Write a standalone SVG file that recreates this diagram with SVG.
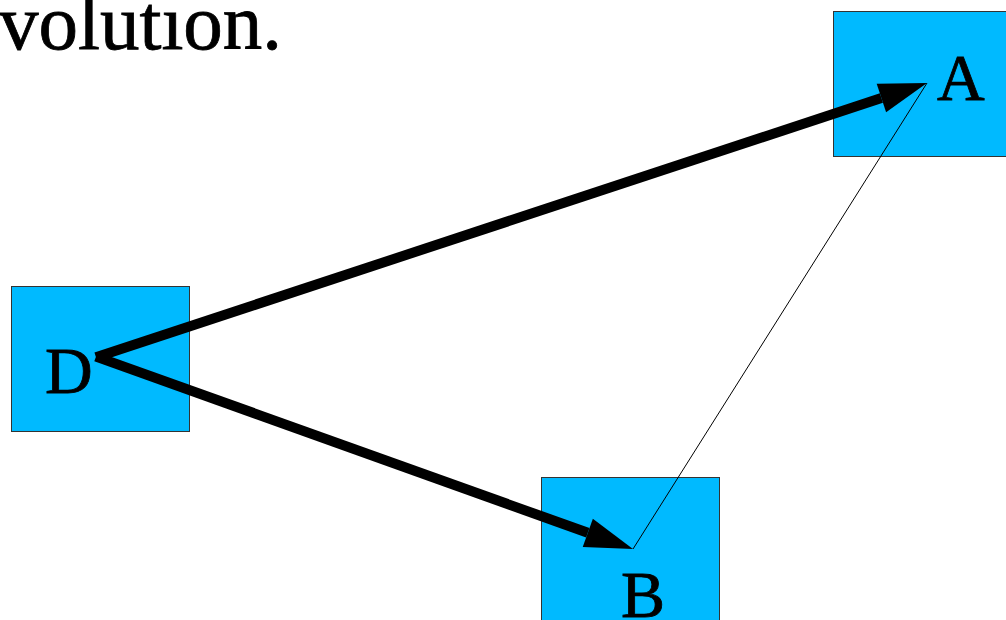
<svg xmlns="http://www.w3.org/2000/svg" width="1006" height="620" viewBox="0 0 1006 620">
  <style>
    .box { fill: #00BAFF; stroke: #333333; stroke-width: 1; }
    .serif { font-family: "Liberation Serif", "Times New Roman", serif; fill: #000000; stroke: #000000; stroke-width: 0.8; }
    .lbl { font-size: 66px; }
    .title { font-size: 79px; }
    .thick { stroke: #000000; stroke-width: 10; fill: none; }
    .thin { stroke: #000000; stroke-width: 1; fill: none; }
  </style>
  <defs>
    <marker id="ah" markerUnits="userSpaceOnUse" markerWidth="48" markerHeight="30" refX="0" refY="15" orient="auto" overflow="visible">
      <path d="M0,0 L48,15 L0,30 Z" fill="#000000"/>
    </marker>
  </defs>
  <rect width="1006" height="620" fill="#ffffff"/>
  <text class="serif title" x="-1" y="49">volutıon.</text>
  <g id="node-A">
    <rect class="box" x="833.5" y="11.5" width="178" height="145"/>
    <text class="serif lbl" x="937" y="100">A</text>
  </g>
  <g id="node-D">
    <rect class="box" x="11.5" y="286.5" width="178" height="145"/>
    <text class="serif lbl" x="45" y="393">D</text>
  </g>
  <g id="node-B">
    <rect class="box" x="541.5" y="477.5" width="178" height="145"/>
    <text class="serif lbl" x="621" y="617">B</text>
  </g>
  <g id="connectors">
    <line class="thick" x1="96" y1="357.3" x2="881.4" y2="98" marker-end="url(#ah)"/>
    <line class="thick" x1="96" y1="356.6" x2="587.8" y2="532.8" marker-end="url(#ah)"/>
    <line class="thin" x1="927" y1="83" x2="633" y2="549"/>
  </g>
</svg>
